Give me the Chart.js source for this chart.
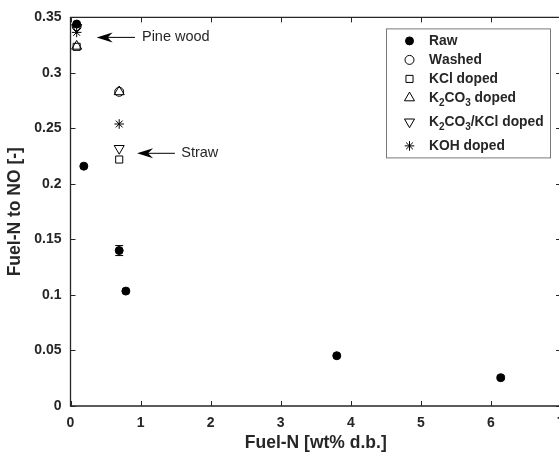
<!DOCTYPE html>
<html><head><meta charset="utf-8">
<script src="https://cdn.jsdelivr.net/npm/chart.js@4.4.1/dist/chart.umd.min.js"></script>
<style>
html,body{margin:0;padding:0;overflow:hidden;background:#fff;width:559px;height:455px}
#wrap{width:600px;height:455px;position:relative}
</style></head>
<body><div id="wrap"><canvas id="c" width="600" height="455"></canvas></div>
<script>
// ---- data ----
const seriesLabels = ['Raw', 'Washed', 'KCl doped', 'K2CO3 doped', 'K2CO3/KCl doped', 'KOH doped'];
const rawX = [0.088, 0.19, 0.695, 0.79, 3.80, 6.14];
const rawY = [0.344, 0.216, 0.140, 0.1035, 0.0453, 0.0255];
const rawErr = [0, 0, 0.0045, 0, 0, 0.0015];
const washedX = [0.088, 0.695];
const washedY = [0.342, 0.283];
const kclX = [0.088, 0.695];
const kclY = [0.3235, 0.222];
const k2co3X = [0.088, 0.695];
const k2co3Y = [0.324, 0.283];
const mixX = [0.088, 0.695];
const mixY = [0.341, 0.232];
const kohX = [0.088, 0.695];
const kohY = [0.3365, 0.254];
const xTicks = [0, 1, 2, 3, 4, 5, 6, 7];
const xTickLabels = ['0', '1', '2', '3', '4', '5', '6', '7'];
const yTicks = [0, 0.05, 0.1, 0.15, 0.2, 0.25, 0.3, 0.35];
const yTickLabels = ['0', '0.05', '0.1', '0.15', '0.2', '0.25', '0.3', '0.35'];
const xTitle = 'Fuel-N [wt% d.b.]';
const yTitle = 'Fuel-N to NO [-]';
const annoText = ['Pine wood', 'Straw'];
const annoTipX = [0.373, 0.95];
const annoTipY = [0.332, 0.2276];
const annoTailX = [0.92, 1.49];
const annoTextX = [1.02, 1.58];

const INK = '#262626';
const pts = (xs, ys) => xs.map((x, i) => ({x: x, y: ys[i]}));

const styles = [
  {pointStyle: 'circle', radius: 4, bg: '#000', rot: 0},
  {pointStyle: 'circle', radius: 4.5, bg: 'rgba(0,0,0,0)', rot: 0},
  {pointStyle: 'rect', radius: 5, bg: 'rgba(0,0,0,0)', rot: 0},
  {pointStyle: 'triangle', radius: 5.8, bg: 'rgba(0,0,0,0)', rot: 0},
  {pointStyle: 'triangle', radius: 5.8, bg: 'rgba(0,0,0,0)', rot: 180},
  {pointStyle: 'star', radius: 4.8, bg: 'rgba(0,0,0,0)', rot: 0}
];
const seriesData = [pts(rawX, rawY), pts(washedX, washedY), pts(kclX, kclY), pts(k2co3X, k2co3Y), pts(mixX, mixY), pts(kohX, kohY)];

const datasets = seriesLabels.map((lab, i) => ({
  label: lab,
  data: seriesData[i],
  pointStyle: styles[i].pointStyle,
  pointRadius: styles[i].radius,
  pointRotation: styles[i].rot,
  pointBackgroundColor: styles[i].bg,
  pointBorderColor: '#000',
  pointBorderWidth: 1,
  showLine: false
}));

function drawRich(ctx, text, x, y, size) {
  let cx = x;
  for (const ch of text) {
    if (/[0-9]/.test(ch)) {
      ctx.font = 'bold ' + Math.round(size * 0.7) + 'px "Liberation Sans", Arial, sans-serif';
      ctx.fillText(ch, cx, y + size * 0.4);
    } else {
      ctx.font = 'bold ' + size + 'px "Liberation Sans", Arial, sans-serif';
      ctx.fillText(ch, cx, y);
    }
    cx += ctx.measureText(ch).width;
  }
}

const framePlugin = {
  id: 'frame',
  beforeDatasetsDraw(chart) {
    const {ctx, chartArea: a, scales: {x, y}} = chart;
    ctx.save();
    ctx.strokeStyle = INK;
    ctx.lineWidth = 1.3;
    ctx.beginPath();
    ctx.rect(a.left, a.top, a.right - a.left, a.bottom - a.top);
    ctx.stroke();
    ctx.lineWidth = 1;
    ctx.beginPath();
    xTicks.forEach(v => {
      const px = Math.round(x.getPixelForValue(v)) + 0.5;
      ctx.moveTo(px, a.bottom); ctx.lineTo(px, a.bottom - 5);
      ctx.moveTo(px, a.top); ctx.lineTo(px, a.top + 5);
    });
    yTicks.forEach(v => {
      const py = Math.round(y.getPixelForValue(v)) + 0.5;
      ctx.moveTo(a.left, py); ctx.lineTo(a.left + 5, py);
      ctx.moveTo(a.right, py); ctx.lineTo(a.right - 5, py);
    });
    ctx.stroke();
    ctx.restore();
  },
  afterDatasetsDraw(chart) {
    const {ctx, chartArea: a, scales: {x, y}} = chart;
    ctx.save();
    // error bars for raw
    ctx.strokeStyle = '#000';
    ctx.lineWidth = 1;
    rawX.forEach((xv, i) => {
      if (!rawErr[i]) return;
      const px = x.getPixelForValue(xv);
      const y1 = y.getPixelForValue(rawY[i] - rawErr[i]);
      const y2 = y.getPixelForValue(rawY[i] + rawErr[i]);
      ctx.beginPath();
      ctx.moveTo(px, y1); ctx.lineTo(px, y2);
      ctx.moveTo(px - 4, y1); ctx.lineTo(px + 4, y1);
      ctx.moveTo(px - 4, y2); ctx.lineTo(px + 4, y2);
      ctx.stroke();
    });
    // annotations with arrows
    annoText.forEach((t, i) => {
      const tx = x.getPixelForValue(annoTipX[i]);
      const ty = y.getPixelForValue(annoTipY[i]);
      const lx = x.getPixelForValue(annoTailX[i]);
      ctx.strokeStyle = '#000';
      ctx.lineWidth = 1;
      ctx.beginPath();
      ctx.moveTo(tx + 8, ty); ctx.lineTo(lx, ty);
      ctx.stroke();
      ctx.fillStyle = '#000';
      ctx.beginPath();
      ctx.moveTo(tx, ty);
      ctx.lineTo(tx + 16, ty - 5);
      ctx.lineTo(tx + 11, ty);
      ctx.lineTo(tx + 16, ty + 5);
      ctx.closePath();
      ctx.fill();
      ctx.fillStyle = INK;
      ctx.font = '14.5px "Liberation Sans", Arial, sans-serif';
      ctx.textBaseline = 'middle';
      ctx.textAlign = 'left';
      ctx.fillText(t, x.getPixelForValue(annoTextX[i]), ty);
    });
    // legend
    const boxL = 386, boxR = a.right - 11, boxT = a.top + 11;
    let rowTop = boxT + 3;
    const items = [];
    seriesLabels.forEach((lab, i) => {
      const h = /[0-9]/.test(lab) ? 24 : 19;
      items.push({lab, i, cy: rowTop + 9.5});
      rowTop += h;
    });
    const boxB = rowTop + 2;
    ctx.strokeStyle = '#7a7a7a';
    ctx.lineWidth = 1;
    ctx.fillStyle = '#fff';
    ctx.fillRect(boxL + 0.5, boxT + 0.5, boxR - boxL, boxB - boxT);
    ctx.strokeRect(boxL + 0.5, boxT + 0.5, boxR - boxL, boxB - boxT);
    items.forEach(it => {
      const s = styles[it.i];
      ctx.strokeStyle = '#000';
      ctx.fillStyle = s.bg;
      ctx.lineWidth = 1;
      Chart.helpers.drawPoint(ctx, {pointStyle: s.pointStyle, radius: s.radius, rotation: s.rot, borderWidth: 1}, boxL + 23.5, it.cy);
      ctx.fillStyle = INK;
      ctx.textBaseline = 'middle';
      ctx.textAlign = 'left';
      drawRich(ctx, it.lab, boxL + 43, it.cy, 13.8);
    });
    ctx.restore();
  }
};

new Chart(document.getElementById('c'), {
  type: 'scatter',
  data: {datasets},
  plugins: [framePlugin],
  options: {
    responsive: false,
    animation: false,
    devicePixelRatio: 1,
    layout: {padding: {top: 17, right: 39, left: 0, bottom: 0}},
    plugins: {legend: {display: false}, tooltip: {enabled: false}},
    scales: {
      x: {
        type: 'linear', min: 0, max: 7,
        afterBuildTicks: s => { s.ticks = xTicks.map(v => ({value: v})); },
        afterFit: s => { s.height = 49; },
        grid: {display: false, drawTicks: false},
        border: {display: false},
        ticks: {color: INK, padding: 9, maxRotation: 0, autoSkip: false,
          font: {family: '"Liberation Sans", Arial, sans-serif', size: 14, weight: 'bold'},
          callback: (v, i) => xTickLabels[i]},
        title: {display: true, text: xTitle, color: INK, padding: {top: 0, bottom: 1},
          font: {family: '"Liberation Sans", Arial, sans-serif', size: 17.5, weight: 'bold'}}
      },
      y: {
        type: 'linear', min: 0, max: 0.35,
        afterBuildTicks: s => { s.ticks = yTicks.map(v => ({value: v})); },
        afterFit: s => { s.width = 70.5; },
        grid: {display: false, drawTicks: false},
        border: {display: false},
        ticks: {color: INK, padding: 9, autoSkip: false,
          font: {family: '"Liberation Sans", Arial, sans-serif', size: 14, weight: 'bold'},
          callback: (v, i) => yTickLabels[i]},
        title: {display: true, text: yTitle, color: INK, padding: {top: 5, bottom: 0},
          font: {family: '"Liberation Sans", Arial, sans-serif', size: 17.5, weight: 'bold'}}
      }
    }
  }
});
</script></body></html>
